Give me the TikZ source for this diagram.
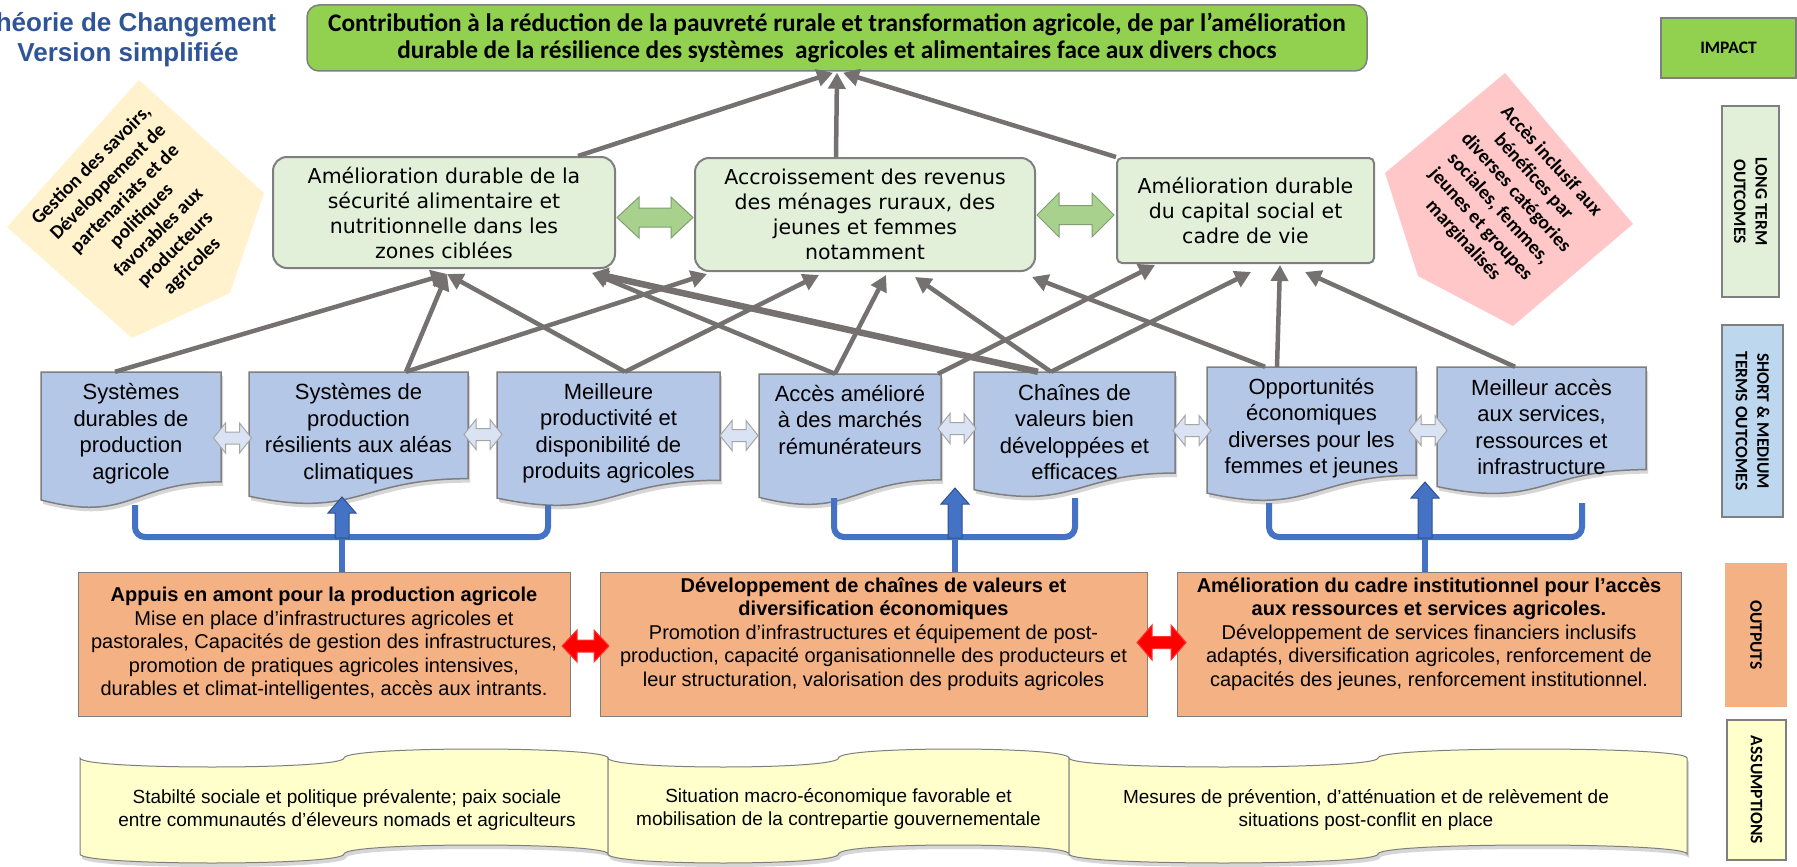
\documentclass[tikz,border=0pt]{standalone}
\usepackage{fontspec}
\setmainfont{Liberation Sans}
\newfontfamily\calf{Carlito}
\newfontfamily\verf{DejaVu Sans}
\usetikzlibrary{arrows.meta}
\definecolor{impgreen}{HTML}{92D050}
\definecolor{ltgreen}{HTML}{E2F0D9}
\definecolor{stblue}{HTML}{B4C7E7}
\definecolor{lblblue}{HTML}{BDD7EE}
\definecolor{outor}{HTML}{F4B183}
\definecolor{asyel}{HTML}{FFFFCC}
\definecolor{boxgray}{HTML}{7F7F7F}
\definecolor{arrgray}{HTML}{767171}
\definecolor{titblue}{HTML}{2F5597}
\definecolor{brblue}{HTML}{4472C4}
\definecolor{brdark}{HTML}{2F528F}
\definecolor{penyel}{HTML}{FFF2CC}
\definecolor{penpink}{HTML}{FFC7C7}
\definecolor{lav}{HTML}{DAE3F3}
\definecolor{dgreen}{HTML}{A9D18E}
\definecolor{dgreenb}{HTML}{7F9F6F}
\newcommand{\fs}[2]{\fontsize{#1}{#2}\selectfont}
% document shape: style, L, T, W, H
\newcommand{\docshape}[5]{\path[#1] (#2,#3) -- ({#2+#4},#3) -- ({#2+#4},{#3+0.802*#5}) .. controls ({#2+0.5*#4},{#3+0.802*#5}) and ({#2+0.5*#4},{#3+1.1075*#5}) .. (#2,{#3+0.934*#5}) -- cycle;}
% punched tape: style, L, W, top centre line, bottom centre line, amplitude
\newcommand{\tapeshape}[6]{\path[#1] (#2,#4) .. controls (#2,{#4+1.333*#6}) and ({#2+0.5*#3},{#4+1.333*#6}) .. ({#2+0.5*#3},#4) .. controls ({#2+0.5*#3},{#4-1.333*#6}) and ({#2+#3},{#4-1.333*#6}) .. ({#2+#3},#4) -- ({#2+#3},#5) .. controls ({#2+#3},{#5-1.333*#6}) and ({#2+0.5*#3},{#5-1.333*#6}) .. ({#2+0.5*#3},#5) .. controls ({#2+0.5*#3},{#5+1.333*#6}) and (#2,{#5+1.333*#6}) .. (#2,#5) -- cycle;}
% double block arrow: style, cx, cy, len, head h, shaft h, head len
\newcommand{\dblarrow}[7]{\path[#1] ({#2-#4/2},#3) -- ({#2-#4/2+#7},{#3-#5/2}) -- ({#2-#4/2+#7},{#3-#6/2}) -- ({#2+#4/2-#7},{#3-#6/2}) -- ({#2+#4/2-#7},{#3-#5/2}) -- ({#2+#4/2},#3) -- ({#2+#4/2-#7},{#3+#5/2}) -- ({#2+#4/2-#7},{#3+#6/2}) -- ({#2-#4/2+#7},{#3+#6/2}) -- ({#2-#4/2+#7},{#3+#5/2}) -- cycle;}
% block up arrow: x, base, tip
\newcommand{\blockup}[3]{\path[uparr] ({#1-7},#2) -- ({#1-7},{#3+16}) -- ({#1-14},{#3+16}) -- (#1,#3) -- ({#1+14},{#3+16}) -- ({#1+7},{#3+16}) -- ({#1+7},#2) -- cycle;}
\tikzset{
  impbox/.style={draw=boxgray, line width=1.5pt, fill=impgreen, rounded corners=12pt, minimum width=1060pt, minimum height=66pt, align=center, inner sep=0pt, font=\calf\bfseries\fs{25.3}{27}},
  ltbox/.style={draw=boxgray, line width=2pt, fill=ltgreen, rounded corners=14pt, align=center, inner sep=0pt, font=\verf\fs{20.5}{25}},
  sttxt/.style={align=center, inner sep=0pt, font=\fs{22}{26.5}},
  stshape/.style={draw=boxgray, line width=1.5pt, fill=stblue},
  shad/.style={fill=black!16, draw=none, xshift=2pt, yshift=-4pt},
  anch/.style={inner sep=0pt, minimum height=100pt},
  outbox/.style={draw=boxgray, line width=1pt, fill=outor, inner sep=0pt, minimum height=144pt},
  outtxt/.style={align=center, inner sep=0pt, font=\fs{20}{23.5}},
  tape/.style={draw=boxgray, line width=1pt, fill=asyel},
  astxt/.style={align=center, inner sep=0pt, font=\fs{19}{23}},
  side/.style={draw=boxgray, line width=1.5pt, align=center, inner sep=0pt, font=\calf\bfseries\fs{17.5}{21.5}},
  gar/.style={draw=arrgray, line width=4.5pt, -{Triangle[length=16pt,width=17pt]}},
  bracket/.style={draw=brblue, line width=6pt, rounded corners=10pt},
  uparr/.style={draw=brdark, line width=1pt, fill=brblue},
  lavarr/.style={draw=boxgray!70, line width=1pt, fill=lav},
  grarr/.style={draw=dgreenb, line width=1pt, fill=dgreen},
  redarr/.style={draw=red!80!white, line width=1pt, fill=red},
  pentxt/.style={align=center, inner sep=0pt, font=\calf\bfseries\fs{19.5}{23.7}}
}
\begin{document}
\begin{tikzpicture}[x=1pt,y=-1pt]
\useasboundingbox[fill=white] (0,0) rectangle (1797,867);
% title
\node[align=center, inner sep=0pt, text=titblue, font=\bfseries\fs{26}{30}] (title) at (128,40) {Théorie de Changement\\Version simplifiée};
% pentagons
\fill[penyel] (139,80) -- (264,193) -- (230,293) -- (132,338) -- (7,227) -- cycle;
\node[pentxt, rotate=45] (ytext) at (142,216) {Gestion des savoirs,\\Développement de\\partenariats et de\\politiques\\favorables aux\\producteurs\\agricoles};
\fill[penpink] (1505,73) -- (1633,224) -- (1513,326) -- (1418,276) -- (1385,173) -- cycle;
\node[pentxt, rotate=-48] (ptext) at (1507,201) {Accès inclusif aux\\bénéfices par\\diverses catégories\\sociales, femmes,\\jeunes et groupes\\marginalisés};
% impact
\node[impbox] (impact) at (837,38) {Contribution à la réduction de la pauvreté rurale et transformation agricole, de par l’amélioration\\durable de la résilience des systèmes~ agricoles et alimentaires face aux divers chocs};
% long term outcomes
\node[ltbox, minimum width=342pt, minimum height=111pt] (lt1) at (444,212.5) {Amélioration durable de la\\sécurité alimentaire et\\nutritionnelle dans les\\zones ciblées};
\node[ltbox, minimum width=340pt, minimum height=113pt] (lt2) at (865,214.5) {Accroissement des revenus\\des ménages ruraux, des\\jeunes et femmes\\notamment};
\node[ltbox, rounded corners=5pt, minimum width=257pt, minimum height=105pt] (lt3) at (1245.5,210.5) {Amélioration durable\\du capital social et\\cadre de vie};
\dblarrow{grarr}{655}{217.5}{76}{41}{19}{22}
\dblarrow{grarr}{1075.5}{215}{77}{44}{19}{22}
% short & medium term outcomes
\docshape{shad}{41}{372}{180}{137}
\docshape{shad}{249}{372}{219}{133}
\docshape{shad}{497}{372}{223}{135}
\docshape{shad}{759}{374}{182}{132}
\docshape{shad}{974}{372}{201}{126}
\docshape{shad}{1207}{367}{209}{135}
\docshape{shad}{1437}{367}{209}{128}
\docshape{stshape}{41}{372}{180}{137}
\docshape{stshape}{249}{372}{219}{133}
\docshape{stshape}{497}{372}{223}{135}
\docshape{stshape}{759}{374}{182}{132}
\docshape{stshape}{974}{372}{201}{126}
\docshape{stshape}{1207}{367}{209}{135}
\docshape{stshape}{1437}{367}{209}{128}
\node[anch, minimum width=180pt] (st1) at (131,422) {};
\node[anch, minimum width=219pt] (st2) at (358.5,422) {};
\node[anch, minimum width=223pt] (st3) at (608.5,422) {};
\node[anch, minimum width=182pt] (st4) at (850,424) {};
\node[anch, minimum width=201pt] (st5) at (1074.5,422) {};
\node[anch, minimum width=209pt] (st6) at (1311.5,417) {};
\node[anch, minimum width=209pt] (st7) at (1541.5,417) {};
\node[sttxt] (st1t) at (131,433.5) {Systèmes\\durables de\\production\\agricole};
\node[sttxt] (st2t) at (358.5,433.5) {Systèmes de\\production\\résilients aux aléas\\climatiques};
\node[sttxt] (st3t) at (608.5,433.5) {Meilleure\\productivité et\\disponibilité de\\produits agricoles};
\node[sttxt] (st4t) at (850,420) {Accès amélioré\\à des marchés\\rémunérateurs};
\node[sttxt] (st5t) at (1074.5,432) {Chaînes de\\valeurs bien\\développées et\\efficaces};
\node[sttxt] (st6t) at (1311.5,428) {Opportunités\\économiques\\diverses pour les\\femmes et jeunes};
\node[sttxt] (st7t) at (1541.5,427) {Meilleur accès\\aux services,\\ressources et\\infrastructure};
\dblarrow{lavarr}{232.5}{438}{38}{30}{12}{12}
\dblarrow{lavarr}{483}{434.5}{38}{30}{12}{12}
\dblarrow{lavarr}{739}{435.5}{38}{30}{12}{12}
\dblarrow{lavarr}{957}{428.5}{38}{30}{12}{12}
\dblarrow{lavarr}{1192}{430.5}{38}{30}{12}{12}
\dblarrow{lavarr}{1428}{430.5}{38}{30}{12}{12}
% arrows to impact
\draw[gar] ([xshift=134pt]lt1.north) -- ([xshift=-4pt,yshift=-1pt]impact.south);
\draw[gar] ([xshift=-29pt]lt2.north) -- ([yshift=-1pt]impact.south);
\draw[gar] (lt3.north west) -- ([xshift=6pt,yshift=-1pt]impact.south);
% arrows short -> long
\draw[gar] ([xshift=-16pt]st1.north) -- ([xshift=3pt,yshift=-5pt]lt1.south);
\draw[gar] ([xshift=47.5pt]st2.north) -- ([xshift=3pt,yshift=-5pt]lt1.south);
\draw[gar] ([xshift=47.5pt]st2.north) -- ([xshift=-158pt,yshift=-2pt]lt2.south);
\draw[gar] ([xshift=16.5pt]st3.north) -- ([xshift=3pt,yshift=-5pt]lt1.south);
\draw[gar] ([xshift=16.5pt]st3.north) -- ([xshift=-46pt,yshift=-3pt]lt2.south);
\draw[gar] ([xshift=-15pt]st4.north) -- ([xshift=148pt,yshift=-4pt]lt1.south);
\draw[gar] ([xshift=-15pt]st4.north) -- ([xshift=21pt,yshift=-3pt]lt2.south);
\draw[gar] ([xshift=88pt]st4.north) -- ([xshift=-90.5pt,yshift=-1pt]lt3.south);
\draw[gar, line width=6.5pt] ([xshift=-36.5pt]st5.north) -- ([xshift=148pt,yshift=-4pt]lt1.south);
\draw[gar] ([xshift=-23.5pt]st5.north) -- ([xshift=50pt,yshift=-5pt]lt2.south);
\draw[gar] ([xshift=-23.5pt]st5.north) -- ([xshift=5.5pt,yshift=-8pt]lt3.south);
\draw[gar] ([xshift=-46.5pt]st6.north) -- ([xshift=167pt,yshift=-5pt]lt2.south);
\draw[gar] ([xshift=-34.5pt]st6.north) -- ([xshift=34.5pt,yshift=-1pt]lt3.south);
\draw[gar] ([xshift=-26.5pt]st7.north) -- ([xshift=59.5pt,yshift=-8pt]lt3.south);
% outputs
\node[outbox, minimum width=492pt] (out1) at (324,644) {};
\node[outbox, minimum width=547pt] (out2) at (873.5,644) {};
\node[outbox, minimum width=504pt] (out3) at (1429,644.5) {};
\node[outtxt] (out1t) at (324,643.5) {\textbf{Appuis en amont pour la production agricole}\\Mise en place d’infrastructures agricoles et\\pastorales, Capacités de gestion des infrastructures,\\promotion de pratiques agricoles intensives,\\durables et climat-intelligentes, accès aux intrants.};
\node[outtxt] (out2t) at (873.5,634) {\textbf{Développement de chaînes de valeurs et}\\\textbf{diversification économiques}\\Promotion d’infrastructures et équipement de post-\\production, capacité organisationnelle des producteurs et\\leur structuration, valorisation des produits agricoles};
\node[outtxt] (out3t) at (1429,634) {\textbf{Amélioration du cadre institutionnel pour l’accès}\\\textbf{aux ressources et services agricoles.}\\Développement de services financiers inclusifs\\adaptés, diversification agricoles, renforcement de\\capacités des jeunes, renforcement institutionnel.};
\dblarrow{redarr}{585.5}{646}{47}{32}{12}{15}
\dblarrow{redarr}{1161.5}{642.5}{49}{35}{12}{15}
% brackets
\coordinate (b1) at (342,537);
\coordinate (b2) at (955,537);
\coordinate (b3) at (1425,537);
\draw[bracket] (135,505) -- (135,537) -- (548,537) -- (548,505);
\draw[bracket] (834,498) -- (834,537) -- (1075,537) -- (1075,498);
\draw[bracket] (1269,503) -- (1269,537) -- (1582,537) -- (1582,503);
\draw[bracket, rounded corners=0pt] (b1) -- ([xshift=18pt]out1.north);
\draw[bracket, rounded corners=0pt] (b2) -- ([xshift=81.5pt]out2.north);
\draw[bracket, rounded corners=0pt] (b3) -- ([xshift=-4pt]out3.north);
\blockup{342}{538}{497}
\blockup{955}{538}{488}
\blockup{1425}{538}{482}
% assumptions
\tapeshape{shad}{80}{528}{758}{854}{9}
\tapeshape{shad}{608}{461}{758}{854}{9}
\tapeshape{shad}{1069}{618}{758}{854}{9}
\tapeshape{tape}{80}{528}{758}{854}{9}
\tapeshape{tape}{608}{461}{758}{854}{9}
\tapeshape{tape}{1069}{618}{758}{854}{9}
\node[astxt] (as1) at (347,810) {Stabilté sociale et politique prévalente; paix sociale\\entre communautés d’éleveurs nomads et agriculteurs};
\node[astxt] (as2) at (838.5,809) {Situation macro-économique favorable et\\mobilisation de la contrepartie gouvernementale};
\node[astxt] (as3) at (1366,810) {Mesures de prévention, d'atténuation et de relèvement de\\situations post-conflit en place};
% side labels
\node[side, fill=impgreen, minimum width=135pt, minimum height=60pt] (limp) at (1728.5,48) {IMPACT};
\node[side, fill=ltgreen, rotate=-90, minimum width=191pt, minimum height=57pt] (llt) at (1750.5,201.5) {LONG TERM\\OUTCOMES};
\node[side, fill=lblblue, rotate=-90, minimum width=192pt, minimum height=61pt] (lst) at (1752.5,421) {SHORT \& MEDIUM\\TERMS OUTCOMES};
\node[side, draw=outor, fill=outor, rotate=-90, minimum width=143pt, minimum height=60pt] (lout) at (1756,635) {OUTPUTS};
\node[side, fill=asyel, rotate=-90, minimum width=140pt, minimum height=59pt] (las) at (1756.5,790) {ASSUMPTIONS};
\end{tikzpicture}
\end{document}
